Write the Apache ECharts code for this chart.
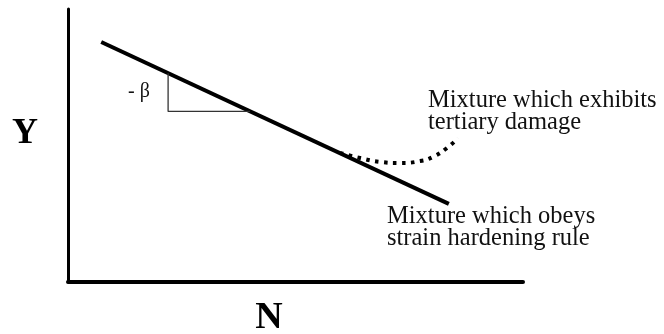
<!DOCTYPE html>
<html>
<head>
<meta charset="utf-8">
<script src="https://cdn.jsdelivr.net/npm/echarts@6/dist/echarts.min.js"></script>
<style>
  html, body { margin: 0; padding: 0; background: #fff; }
  #chart { width: 664px; height: 334px; }
</style>
</head>
<body>
<div id="chart"></div>
<script>
// 坐标：N 横轴 0-100，Y 纵轴 0-100（示意图，无刻度）
var strainN = [7.3, 83.7];        // 应变硬化直线
var strainY = [87.9, 28.6];

var tertiaryN = [59.8, 64.2, 68.6, 73.0, 77.4, 80.2, 83.3, 85.7]; // 三次损伤虚线
var tertiaryY = [47.3, 45.4, 44.0, 43.6, 44.3, 45.8, 49.1, 52.7];

var slopeN = [22.0, 22.0, 40.0];  // 斜率三角形
var slopeY = [76.5, 62.5, 62.5];

var serif = "'Liberation Serif', 'Times New Roman', serif";

function pairs(xs, ys) {
    var out = [];
    for (var i = 0; i < xs.length; i++) {
        out.push([xs[i], ys[i]]);
    }
    return out;
}

var myChart = echarts.init(document.getElementById('chart'));

var option = {
    animation: false,
    backgroundColor: '#fff',
    grid: { left: 68, top: 9, width: 455, height: 273, outerBoundsMode: 'none', containLabel: false },
    xAxis: {
        type: 'value', min: 0, max: 100,
        name: 'N', nameLocation: 'middle', nameGap: 17,
        nameTextStyle: { fontFamily: serif, fontWeight: 'bold', fontSize: 38, color: '#000', padding: [0, 53, 0, 0] },
        axisLine: { show: true, onZero: false, lineStyle: { color: '#000', width: 4 } },
        axisTick: { show: false },
        axisLabel: { show: false },
        splitLine: { show: false }
    },
    yAxis: {
        type: 'value', min: 0, max: 100,
        name: 'Y', nameLocation: 'middle', nameGap: 30, nameRotate: 0,
        nameTextStyle: { fontFamily: serif, fontWeight: 'bold', fontSize: 36, color: '#000', verticalAlign: 'bottom', lineHeight: 24 },
        axisLine: { show: true, onZero: false, lineStyle: { color: '#000', width: 3 } },
        axisTick: { show: false },
        axisLabel: { show: false },
        splitLine: { show: false }
    },
    series: [
        {
            name: 'strain hardening',
            type: 'line',
            data: pairs(strainN, strainY),
            symbol: 'none',
            lineStyle: { color: '#000', width: 4 }
        },
        {
            name: 'tertiary damage',
            type: 'line',
            data: pairs(tertiaryN, tertiaryY),
            smooth: 0.5,
            symbol: 'none',
            lineStyle: { color: '#000', width: 4, type: [3.5, 5.5], cap: 'butt' }
        },
        {
            name: 'slope',
            type: 'line',
            data: pairs(slopeN, slopeY),
            symbol: 'none',
            lineStyle: { color: '#333', width: 1.3 }
        }
    ],
    graphic: [
        {
            type: 'text', left: 428, top: 88,
            style: { text: 'Mixture which exhibits\ntertiary damage', font: '24.5px ' + serif, fill: '#111', lineHeight: 22 }
        },
        {
            type: 'text', left: 387, top: 204,
            style: { text: 'Mixture which obeys\nstrain hardening rule', font: '24.5px ' + serif, fill: '#111', lineHeight: 22 }
        },
        {
            type: 'text', left: 128, top: 82,
            style: { text: '- β', font: '20px ' + serif, fill: '#111' }
        }
    ]
};

myChart.setOption(option);
</script>
</body>
</html>
